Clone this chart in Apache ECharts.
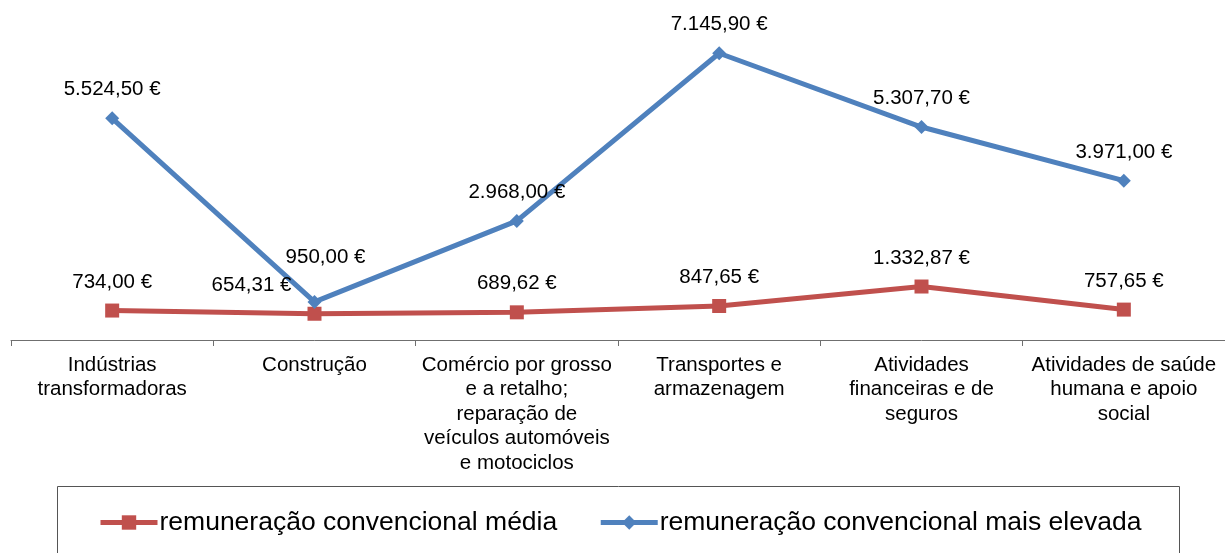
<!DOCTYPE html>
<html><head><meta charset="utf-8">
<script src="https://cdn.jsdelivr.net/npm/echarts@6/dist/echarts.min.js"></script>
<style>html,body{margin:0;padding:0;background:#fff}#c{width:1225px;height:553px}</style>
</head><body><div id="c"></div>
<script>
const categories = [
  "Indústrias\ntransformadoras",
  "Construção",
  "Comércio por grosso\ne a retalho;\nreparação de\nveículos automóveis\ne motociclos",
  "Transportes e\narmazenagem",
  "Atividades\nfinanceiras e de\nseguros",
  "Atividades de saúde\nhumana e apoio\nsocial"
];
const mediaValues = [734.00, 654.31, 689.62, 847.65, 1332.87, 757.65];
const elevadaValues = [5524.50, 950.00, 2968.00, 7145.90, 5307.70, 3971.00];
const seriesNames = ["remuneração convencional média", "remuneração convencional mais elevada"];

function fmt(v) {
  const parts = v.toFixed(2).split(".");
  const intPart = parts[0].replace(/\B(?=(\d{3})+(?!\d))/g, ".");
  return intPart + "," + parts[1] + " €";
}
const FONT = "'Liberation Sans', Arial, sans-serif";
const mediaOffsets = [[0,0],[-63,0],[0,0],[0,0],[0,0],[0,0]];
const elevadaOffsets = [[0,0],[11,-16],[0,0],[0,0],[0,0],[0,0]];

const chart = echarts.init(document.getElementById('c'));
chart.setOption({
  animation: false,
  grid: { left: 11, right: -4, top: 19, bottom: 213 },
  xAxis: {
    type: 'category', data: categories, boundaryGap: true,
    axisLine: { lineStyle: { color: '#6f6f6f', width: 1 } },
    axisTick: { show: true, interval: 0, length: 6, lineStyle: { color: '#6f6f6f' } },
    axisLabel: { interval: 0, color: '#000', fontFamily: FONT, fontSize: 20.5, lineHeight: 24.5, margin: 13 }
  },
  yAxis: { type: 'value', min: 0, max: 8000, show: false, splitLine: { show: false } },
  legend: {
    left: 93, top: 504, itemWidth: 57, itemHeight: 18, itemGap: 41,
    lineStyle: { width: 5 },
    textStyle: { fontFamily: FONT, fontSize: 26.5, color: '#000', padding: [0,0,0,-3] },
    data: seriesNames
  },
  graphic: [{ type: 'rect', shape: { x: 57.5, y: 486.5, width: 1122, height: 80 },
    style: { fill: 'none', stroke: '#555', lineWidth: 1 }, silent: true }],
  series: [
    {
      name: seriesNames[0], type: 'line',
      data: mediaValues.map((v, i) => ({ value: v, label: { offset: mediaOffsets[i] } })),
      symbol: 'rect', symbolSize: 14, showAllSymbol: true,
      lineStyle: { color: '#C0504D', width: 5 }, itemStyle: { color: '#C0504D' },
      label: { show: true, position: 'top', distance: 11, color: '#000', fontFamily: FONT, fontSize: 20.5,
        formatter: p => fmt(p.value) }
    },
    {
      name: seriesNames[1], type: 'line',
      data: elevadaValues.map((v, i) => ({ value: v, label: { offset: elevadaOffsets[i] } })),
      symbol: 'diamond', symbolSize: 14, showAllSymbol: true,
      lineStyle: { color: '#4F81BD', width: 5 }, itemStyle: { color: '#4F81BD' },
      label: { show: true, position: 'top', distance: 11, color: '#000', fontFamily: FONT, fontSize: 20.5,
        formatter: p => fmt(p.value) }
    }
  ]
});
</script></body></html>
